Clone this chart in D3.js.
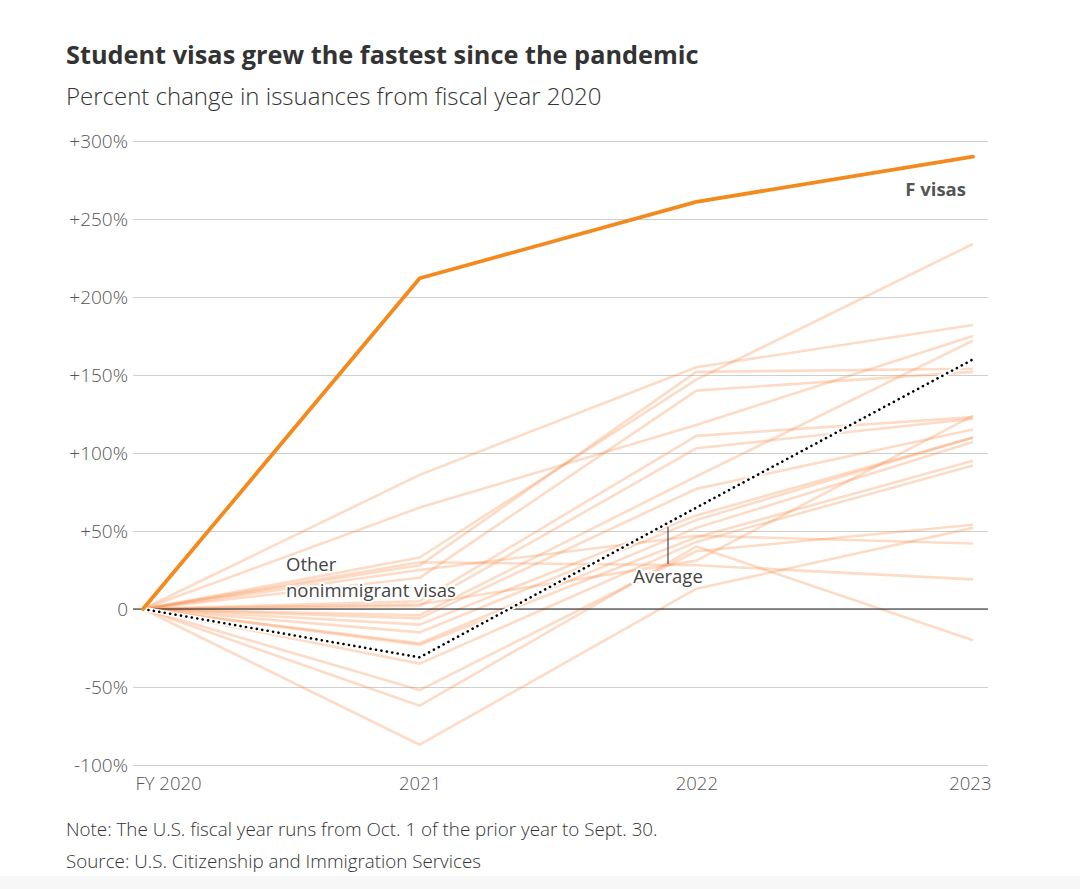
<!DOCTYPE html>
<html>
<head>
<meta charset="utf-8">
<script src="https://cdn.jsdelivr.net/npm/d3@7"></script>
<style>
  html, body { margin: 0; padding: 0; background: #fff; }
  svg { display: block; font-family: "Open Sans", Lato, "Noto Sans", sans-serif; }
</style>
</head>
<body>
<svg id="chart" width="1080" height="889"></svg>
<script>
// ---------- data ----------
const years = ["FY 2020", "2021", "2022", "2023"];
const yTicks = [-100, -50, 0, 50, 100, 150, 200, 250, 300];
const fVisas = [0, 212, 261, 290];
const average = [0, -31, 65, 160];
// other nonimmigrant visa categories: % change for FY2020, 2021, 2022, 2023
const other01 = [0, 86, 155, 182];
const other02 = [0, 65, 118, 175];
const other03 = [0, 33, 147, 234];
const other04 = [0, 28, 152, 154];
const other05 = [0, 20, 140, 152];
const other06 = [0, 5, 111, 123];
const other07 = [0, 2, 103, 122];
const other08 = [0, -4, 85, 172];
const other09 = [0, -6, 77, 115];
const other10 = [0, -10, 60, 110];
const other11 = [0, -15, 57, 110];
const other12 = [0, -22, 52, 107];
const other13 = [0, -23, 46, 95];
const other14 = [0, -35, 43, 92];
const other15 = [0, -52, 37, 54];
const other16 = [0, -62, 40, -20];
const other17 = [0, -87, 13, 52];
const other18 = [0, 30, 28, 19];
const other19 = [0, 25, 47, 42];
const other20 = [0, 3, 31, 124];
const otherSeries = [other01, other02, other03, other04, other05, other06, other07,
  other08, other09, other10, other11, other12, other13, other14, other15, other16,
  other17, other18, other19, other20];

// ---------- layout ----------
const svg = d3.select("#chart");
const gridLeft = 133, gridRight = 988;
const x = d3.scalePoint().domain(years).range([143, 973]);
const y = d3.scaleLinear().domain([-100, 300]).range([765, 141]);

svg.append("rect").attr("x", 0).attr("y", 876).attr("width", 1080).attr("height", 13).attr("fill", "#f7f7f7");

// title
svg.append("text").attr("x", 66).attr("y", 64)
  .attr("font-size", 25.3).attr("font-weight", 700).attr("fill", "#333")
  .text("Student visas grew the fastest since the pandemic");
svg.append("text").attr("x", 66).attr("y", 105)
  .attr("font-size", 24).attr("font-weight", 300).attr("fill", "#333")
  .text("Percent change in issuances from fiscal year 2020");

// y axis with gridlines
const yAxis = d3.axisLeft(y).tickValues(yTicks)
  .tickSize(-(gridRight - gridLeft)).tickPadding(5)
  .tickFormat(d => d === 0 ? "0" : (d > 0 ? "+" + d + "%" : d + "%"));
const gy = svg.append("g").attr("transform", `translate(${gridLeft},0)`).call(yAxis);
gy.select(".domain").remove();
gy.selectAll(".tick line").attr("stroke", "#cfcfcf").attr("stroke-width", 1.2);
gy.selectAll(".tick text").attr("font-size", 19).attr("font-weight", 300).attr("fill", "#555")
  .attr("font-family", "'Open Sans', Lato, sans-serif").attr("dy", "0.35em");

// x axis
const xAxis = d3.axisBottom(x).tickSize(0).tickPadding(12);
const gx = svg.append("g").attr("transform", `translate(0,${y(-100)})`).call(xAxis);
gx.select(".domain").remove();
gx.selectAll(".tick text").attr("font-size", 18.5).attr("font-weight", 300).attr("fill", "#555")
  .attr("font-family", "'Open Sans', Lato, sans-serif")
  .attr("text-anchor", (d, i) => i === 0 ? "start" : (i === years.length - 1 ? "end" : "middle"))
  .attr("dx", (d, i) => i === 0 ? -8 : (i === years.length - 1 ? 18 : 0));

const line = d3.line().x((d, i) => x(years[i])).y(d => y(d));

// other lines
svg.append("g").selectAll("path").data(otherSeries).join("path")
  .attr("d", line).attr("fill", "none")
  .attr("stroke", "#f98b45").attr("stroke-opacity", 0.3).attr("stroke-width", 2.6)
  .attr("stroke-linejoin", "round");

// zero line
svg.append("line").attr("x1", gridLeft).attr("x2", gridRight)
  .attr("y1", y(0)).attr("y2", y(0)).attr("stroke", "#222").attr("stroke-width", 1.2);

// average
svg.append("path").datum(average).attr("d", line).attr("fill", "none")
  .attr("stroke", "#fff").attr("stroke-width", 5).attr("stroke-linejoin", "round");
svg.append("path").datum(average).attr("d", line).attr("fill", "none")
  .attr("stroke", "#000").attr("stroke-width", 2.6).attr("stroke-dasharray", "0.1,5.4")
  .attr("stroke-linecap", "round");

// F visas
svg.append("path").datum(fVisas).attr("d", line).attr("fill", "none")
  .attr("stroke", "#f28a1e").attr("stroke-width", 3.8).attr("stroke-linejoin", "round")
  .attr("stroke-linecap", "round");

// annotations
function halo(sel) {
  return sel.attr("stroke", "#fff").attr("stroke-width", 4).attr("paint-order", "stroke")
    .attr("stroke-linejoin", "round");
}
svg.append("text").attr("x", 966).attr("y", 196).attr("text-anchor", "end")
  .attr("font-size", 18.5).attr("font-weight", 700).attr("fill", "#555").text("F visas");
halo(svg.append("text").attr("x", 286).attr("y", 571)
  .attr("font-size", 18.5).attr("font-weight", 400).attr("fill", "#444").text("Other"));
halo(svg.append("text").attr("x", 286).attr("y", 597)
  .attr("font-size", 18.5).attr("font-weight", 400).attr("fill", "#444").text("nonimmigrant visas"));
svg.append("line").attr("x1", 668).attr("x2", 668).attr("y1", 527).attr("y2", 564)
  .attr("stroke", "#555").attr("stroke-width", 1.3);
halo(svg.append("text").attr("x", 668).attr("y", 583).attr("text-anchor", "middle")
  .attr("font-size", 18.5).attr("font-weight", 400).attr("fill", "#444").text("Average"));

// footnotes
svg.append("text").attr("x", 66).attr("y", 836).attr("font-size", 18.8).attr("font-weight", 300)
  .attr("fill", "#333").text("Note: The U.S. fiscal year runs from Oct. 1 of the prior year to Sept. 30.");
svg.append("text").attr("x", 66).attr("y", 868).attr("font-size", 18.8).attr("font-weight", 300)
  .attr("fill", "#333").text("Source: U.S. Citizenship and Immigration Services");
</script>
</body>
</html>
